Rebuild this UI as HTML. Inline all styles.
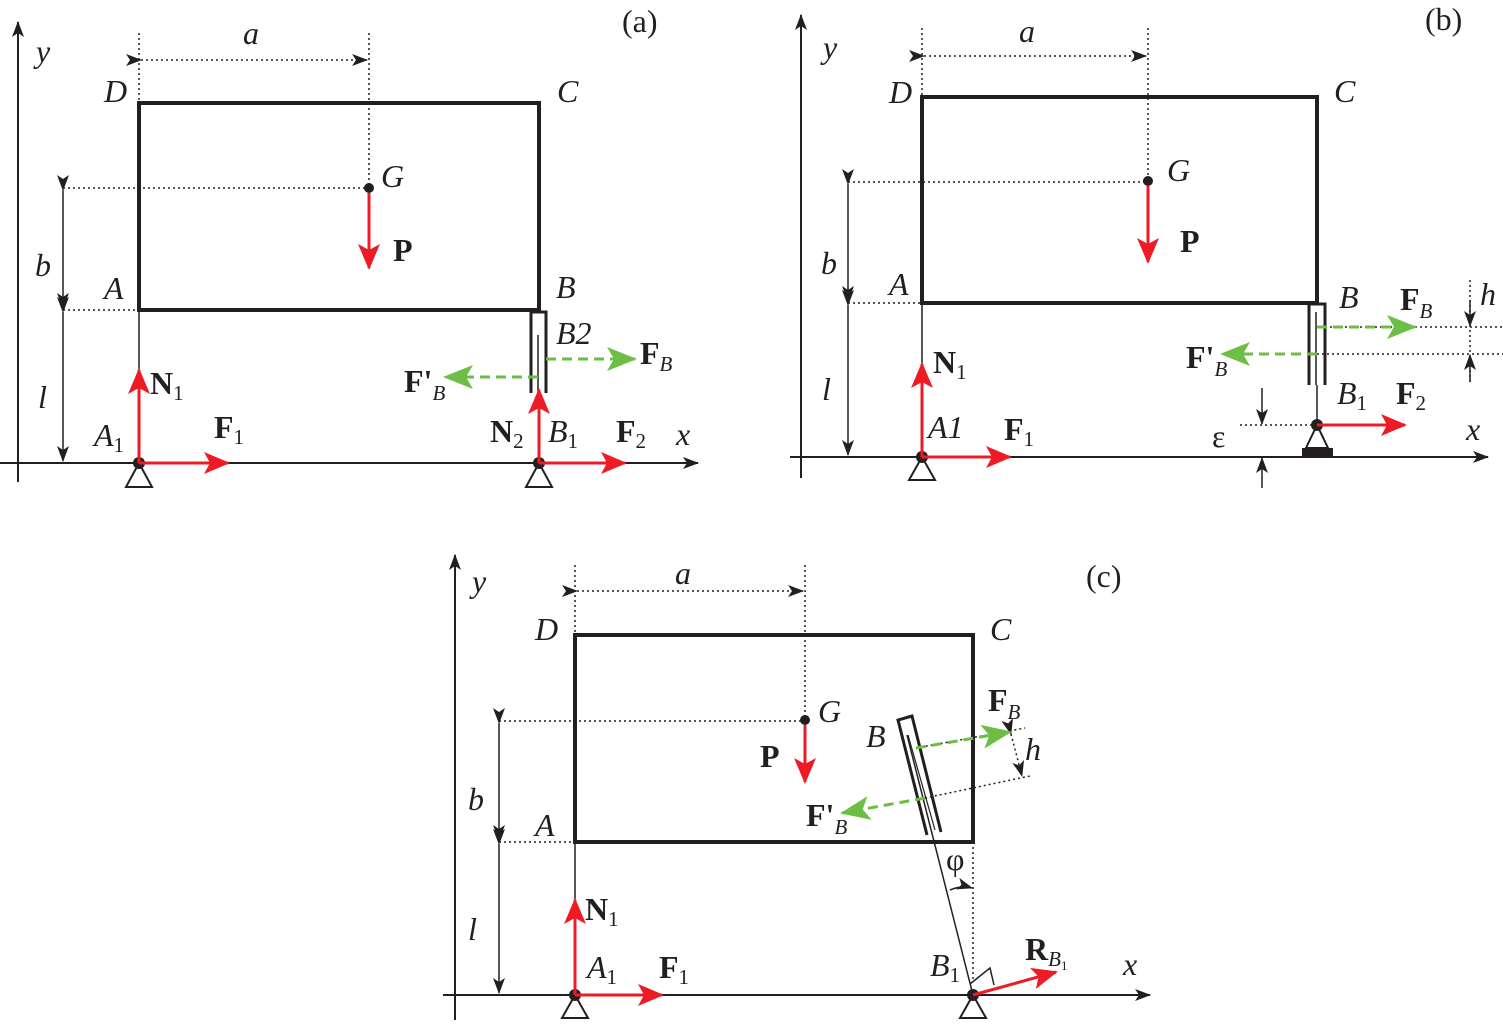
<!DOCTYPE html>
<html><head><meta charset="utf-8"><style>body{margin:0;background:#fff}svg{display:block}
text{font-family:"Liberation Serif","Times New Roman",serif;font-size:32px;fill:#231f20}
.i{font-style:italic}.b{font-weight:bold}.s{font-size:21px}</style></head><body>
<svg width="1503" height="1024" viewBox="0 0 1503 1024" xmlns="http://www.w3.org/2000/svg">
<defs>
<marker id="k" markerWidth="16" markerHeight="12" refX="15" refY="6" orient="auto" markerUnits="userSpaceOnUse"><path d="M0,0 L16,6 L0,12 L4,6z" fill="#231f20"/></marker>
<marker id="r" markerWidth="26" markerHeight="22" refX="24" refY="11" orient="auto" markerUnits="userSpaceOnUse"><path d="M0,0 L26,11 L0,22 L6,11z" fill="#ed1c24"/></marker>
<marker id="g" markerWidth="30" markerHeight="24" refX="28" refY="12" orient="auto" markerUnits="userSpaceOnUse"><path d="M0,0 L30,12 L0,24 L7,12z" fill="#6dbe45"/></marker>
</defs>
<g stroke="#231f20" fill="none">
<!-- panel a -->
<line x1="18" y1="482" x2="18" y2="22" stroke-width="2" marker-end="url(#k)"/>
<line x1="0" y1="463" x2="698" y2="463" stroke-width="2" marker-end="url(#k)"/>
<rect x="139" y="103" width="400" height="207" stroke-width="4"/>
<g stroke-width="1.5" stroke-dasharray="2,3">
<line x1="139" y1="33" x2="139" y2="103"/><line x1="369" y1="33" x2="369" y2="187"/>
<line x1="63" y1="188" x2="369" y2="188"/><line x1="63" y1="310" x2="139" y2="310"/>
<line x1="141" y1="60" x2="367" y2="60" marker-start="url(#k)" marker-end="url(#k)"/>
</g>
<line x1="63" y1="190" x2="63" y2="308" stroke-width="1.5" marker-start="url(#k)" marker-end="url(#k)"/>
<line x1="63" y1="312" x2="63" y2="461" stroke-width="1.5" marker-start="url(#k)" marker-end="url(#k)"/>
<line x1="139" y1="310" x2="139" y2="463" stroke-width="1.5"/>
<path d="M531,393 V312 H546 V393" stroke-width="3"/><line x1="538" y1="335" x2="538" y2="393" stroke-width="1.5"/><line x1="539" y1="295" x2="539" y2="312" stroke-width="3"/>
<path d="M139,463 L126,487 L152,487z" stroke-width="2"/><path d="M539,463 L526,487 L552,487z" stroke-width="2"/>
<!-- panel b -->
<line x1="801" y1="478" x2="801" y2="15" stroke-width="2" marker-end="url(#k)"/>
<line x1="790" y1="457" x2="1488" y2="457" stroke-width="2" marker-end="url(#k)"/>
<rect x="922" y="97" width="395" height="206" stroke-width="4"/>
<g stroke-width="1.5" stroke-dasharray="2,3">
<line x1="922" y1="28" x2="922" y2="97"/><line x1="1148" y1="28" x2="1148" y2="181"/>
<line x1="848" y1="182" x2="1148" y2="182"/><line x1="848" y1="303" x2="922" y2="303"/>
<line x1="924" y1="56" x2="1146" y2="56" marker-start="url(#k)" marker-end="url(#k)"/>
<line x1="1325" y1="327" x2="1503" y2="327"/><line x1="1317" y1="354" x2="1503" y2="354"/>
<line x1="1470" y1="280" x2="1470" y2="385"/><line x1="1240" y1="425" x2="1317" y2="425"/>
</g>
<line x1="1470" y1="300" x2="1470" y2="326" stroke-width="1.5" marker-end="url(#k)"/>
<line x1="1470" y1="382" x2="1470" y2="355" stroke-width="1.5" marker-end="url(#k)"/>
<line x1="1262" y1="388" x2="1262" y2="424" stroke-width="1.5" marker-end="url(#k)"/>
<line x1="1262" y1="488" x2="1262" y2="458" stroke-width="1.5" marker-end="url(#k)"/>
<line x1="848" y1="184" x2="848" y2="301" stroke-width="1.5" marker-start="url(#k)" marker-end="url(#k)"/>
<line x1="848" y1="305" x2="848" y2="455" stroke-width="1.5" marker-start="url(#k)" marker-end="url(#k)"/>
<line x1="922" y1="303" x2="922" y2="457" stroke-width="1.5"/>
<path d="M1309,385 V304 H1325 V385" stroke-width="3"/><line x1="1316" y1="312" x2="1316" y2="385" stroke-width="1.5"/><line x1="1317" y1="385" x2="1317" y2="425" stroke-width="1.5"/><line x1="1317" y1="290" x2="1317" y2="304" stroke-width="3"/>
<path d="M922,457 L909,480 L935,480z" stroke-width="2"/><path d="M1317,425 L1306,448 L1328,448z" stroke-width="2"/>
<rect x="1302" y="448" width="31" height="10" fill="#231f20" stroke="none"/>
<!-- panel c -->
<line x1="455" y1="1020" x2="455" y2="555" stroke-width="2" marker-end="url(#k)"/>
<line x1="443" y1="995" x2="1150" y2="995" stroke-width="2" marker-end="url(#k)"/>
<rect x="575" y="635" width="398" height="207" stroke-width="4"/>
<g stroke-width="1.5" stroke-dasharray="2,3">
<line x1="575" y1="565" x2="575" y2="635"/><line x1="805" y1="565" x2="805" y2="720"/>
<line x1="499" y1="721" x2="805" y2="721"/><line x1="499" y1="842" x2="575" y2="842"/>
<line x1="577" y1="591" x2="803" y2="591" marker-start="url(#k)" marker-end="url(#k)"/>
<line x1="973" y1="842" x2="973" y2="980"/>
<line x1="916" y1="748" x2="1025" y2="728"/><line x1="925" y1="798" x2="1030" y2="776"/>
<line x1="1011" y1="734" x2="1022" y2="776" marker-start="url(#k)" marker-end="url(#k)"/>
</g>
<line x1="499" y1="723" x2="499" y2="840" stroke-width="1.5" marker-start="url(#k)" marker-end="url(#k)"/>
<line x1="499" y1="844" x2="499" y2="993" stroke-width="1.5" marker-start="url(#k)" marker-end="url(#k)"/>
<line x1="575" y1="842" x2="575" y2="995" stroke-width="1.5"/>
<line x1="973" y1="995" x2="907" y2="735" stroke-width="1.5"/>
<path d="M927,835 L898,720 L912,716 L941,832" stroke-width="3"/><line x1="908" y1="735" x2="935" y2="830" stroke-width="1.2"/>
<path d="M950,890 Q962,885 972,888" stroke-width="1.5" marker-end="url(#k)"/>
<path d="M970,984 L990,968 L994,985" stroke-width="1.5"/>
<path d="M575,995 L562,1018 L588,1018z" stroke-width="2"/><path d="M973,995 L960,1018 L986,1018z" stroke-width="2"/>
</g>
<g fill="#231f20"><circle cx="369" cy="188" r="5"/><circle cx="139" cy="463" r="6"/><circle cx="539" cy="463" r="6"/>
<circle cx="1148" cy="181" r="5"/><circle cx="922" cy="457" r="6"/><circle cx="1317" cy="425" r="6"/>
<circle cx="805" cy="720" r="5"/><circle cx="575" cy="995" r="6"/><circle cx="973" cy="995" r="6"/></g>
<g stroke="#ed1c24" stroke-width="3">
<line x1="369" y1="193" x2="369" y2="268" marker-end="url(#r)"/><line x1="139" y1="463" x2="139" y2="370" marker-end="url(#r)"/><line x1="139" y1="463" x2="228" y2="463" marker-end="url(#r)"/>
<line x1="539" y1="463" x2="539" y2="390" marker-end="url(#r)"/><line x1="539" y1="463" x2="625" y2="463" marker-end="url(#r)"/>
<line x1="1148" y1="186" x2="1148" y2="262" marker-end="url(#r)"/><line x1="922" y1="457" x2="922" y2="364" marker-end="url(#r)"/><line x1="922" y1="457" x2="1010" y2="457" marker-end="url(#r)"/>
<line x1="1317" y1="425" x2="1405" y2="425" marker-end="url(#r)"/>
<line x1="805" y1="725" x2="805" y2="782" marker-end="url(#r)"/><line x1="575" y1="995" x2="575" y2="900" marker-end="url(#r)"/><line x1="575" y1="995" x2="662" y2="995" marker-end="url(#r)"/>
<line x1="973" y1="995" x2="1056" y2="972" marker-end="url(#r)"/>
</g>
<g stroke="#6dbe45" stroke-width="3" stroke-dasharray="10,6">
<line x1="546" y1="359" x2="635" y2="359" marker-end="url(#g)"/><line x1="538" y1="377" x2="445" y2="377" marker-end="url(#g)"/>
<line x1="1317" y1="327" x2="1415" y2="327" marker-end="url(#g)"/><line x1="1317" y1="354" x2="1222" y2="354" marker-end="url(#g)"/>
<line x1="916" y1="748" x2="1010" y2="732" marker-end="url(#g)"/><line x1="925" y1="798" x2="842" y2="813" marker-end="url(#g)"/>
</g>
<!-- labels a -->
<text x="622" y="32">(a)</text><text x="36" y="62" class="i">y</text><text x="243" y="44" class="i">a</text>
<text x="104" y="102" class="i">D</text><text x="557" y="102" class="i">C</text><text x="381" y="187" class="i">G</text>
<text x="393" y="261" class="b">P</text><text x="35" y="276" class="i">b</text><text x="104" y="299" class="i">A</text><text x="556" y="298" class="i">B</text>
<text x="556" y="344" class="i">B2</text><text x="640" y="364" class="b">F<tspan class="i s" font-weight="normal" dy="7">B</tspan></text>
<text x="404" y="392" class="b">F'<tspan class="i s" font-weight="normal" dy="8">B</tspan></text>
<text x="38" y="408" class="i">l</text><text x="150" y="394" class="b">N<tspan class="s" font-weight="normal" dy="6">1</tspan></text>
<text x="94" y="446" class="i">A<tspan class="s" font-style="normal" dy="6">1</tspan></text><text x="214" y="438" class="b">F<tspan class="s" font-weight="normal" dy="6">1</tspan></text>
<text x="490" y="442" class="b">N<tspan class="s" font-weight="normal" dy="6">2</tspan></text><text x="548" y="442" class="i">B<tspan class="s" font-style="normal" dy="6">1</tspan></text>
<text x="616" y="442" class="b">F<tspan class="s" font-weight="normal" dy="6">2</tspan></text><text x="676" y="445" class="i">x</text>
<!-- labels b -->
<text x="1425" y="30">(b)</text><text x="823" y="58" class="i">y</text><text x="1019" y="42" class="i">a</text>
<text x="889" y="103" class="i">D</text><text x="1334" y="102" class="i">C</text><text x="1167" y="181" class="i">G</text>
<text x="1180" y="252" class="b">P</text><text x="821" y="274" class="i">b</text><text x="889" y="295" class="i">A</text>
<text x="1339" y="308" class="i">B</text><text x="1400" y="310" class="b">F<tspan class="i s" font-weight="normal" dy="8">B</tspan></text><text x="1480" y="305" class="i">h</text>
<text x="1186" y="368" class="b">F'<tspan class="i s" font-weight="normal" dy="8">B</tspan></text>
<text x="822" y="400" class="i">l</text><text x="933" y="373" class="b">N<tspan class="s" font-weight="normal" dy="6">1</tspan></text>
<text x="1337" y="404" class="i">B<tspan class="s" font-style="normal" dy="6">1</tspan></text><text x="1396" y="404" class="b">F<tspan class="s" font-weight="normal" dy="6">2</tspan></text>
<text x="928" y="438" class="i">A1</text><text x="1004" y="440" class="b">F<tspan class="s" font-weight="normal" dy="6">1</tspan></text>
<text x="1212" y="447">ε</text><text x="1466" y="440" class="i">x</text>
<!-- labels c -->
<text x="1086" y="587">(c)</text><text x="472" y="592" class="i">y</text><text x="675" y="584" class="i">a</text>
<text x="535" y="640" class="i">D</text><text x="990" y="640" class="i">C</text><text x="818" y="722" class="i">G</text>
<text x="988" y="711" class="b">F<tspan class="i s" font-weight="normal" dy="8">B</tspan></text>
<text x="866" y="747" class="i">B</text><text x="1025" y="760" class="i">h</text>
<text x="760" y="767" class="b">P</text><text x="468" y="810" class="i">b</text>
<text x="806" y="826" class="b">F'<tspan class="i s" font-weight="normal" dy="8">B</tspan></text>
<text x="535" y="836" class="i">A</text><text x="946" y="870">φ</text>
<text x="468" y="940" class="i">l</text><text x="585" y="920" class="b">N<tspan class="s" font-weight="normal" dy="6">1</tspan></text>
<text x="587" y="978" class="i">A<tspan class="s" font-style="normal" dy="6">1</tspan></text><text x="659" y="978" class="b">F<tspan class="s" font-weight="normal" dy="6">1</tspan></text>
<text x="930" y="976" class="i">B<tspan class="s" font-style="normal" dy="6">1</tspan></text>
<text x="1025" y="960" class="b">R<tspan class="i s" font-weight="normal" dy="6">B</tspan><tspan font-size="13" dy="4" font-weight="normal">1</tspan></text>
<text x="1123" y="975" class="i">x</text>
</svg>
</body></html>
